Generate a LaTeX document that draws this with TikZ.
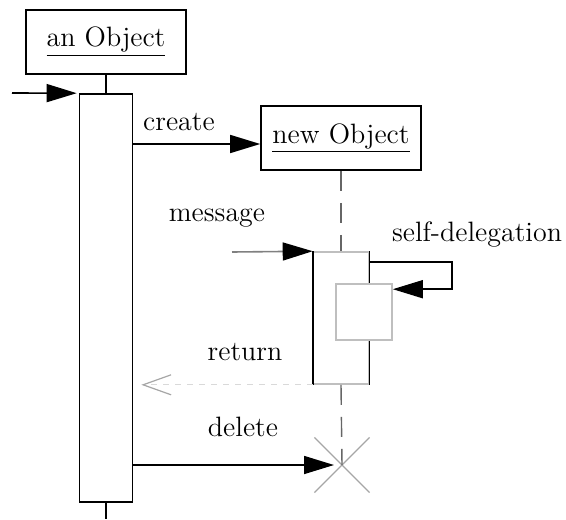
\documentclass[tikz,border=0pt]{standalone}
\usepackage{tikz}
\usetikzlibrary{arrows.meta,positioning,shapes.misc}

\begin{document}
\begin{tikzpicture}[x=0.5pt, y=-0.5pt, >={Triangle[length=15pt,width=9pt]}, font=\fontsize{14}{17}\selectfont]
        \tikzset{object/.style={draw, line width=0.8pt, rectangle, minimum width=80pt, minimum height=32pt, inner sep=0pt},
                 activation/.style={draw, line width=0.8pt, fill=white, rectangle, inner sep=0pt},
                 msg/.style={->, line width=0.8pt},
                 lifeline/.style={dashed, dash pattern=on 10pt off 6pt, line width=0.7pt, gray!80!black},
                 ret/.style={-{Straight Barb[length=14pt,width=10pt,color=gray!70]}, dashed, gray!30, line width=0.6pt}}
        \useasboundingbox (0,0) rectangle (566,519);

        \node[object] (anobj) at (106,42) {\raisebox{3pt}{\underline{an Object}}};
        \node[object] (newobj) at (341,138) {\raisebox{3pt}{\underline{new Object}}};
        \node[activation, minimum width=26.5pt, minimum height=204pt] (act1) at (106,298) {};
        \node[activation, draw=gray!50, minimum width=27.5pt, minimum height=66pt] (act2) at (341,318) {};
        \node[activation, draw=gray!50, minimum width=28pt, minimum height=28pt] (act3) at (364,312) {};
        \node[draw=gray!70, line width=0.6pt, cross out, minimum size=27pt, inner sep=0pt] (kill) at (342,465) {};

        \coordinate (start) at (12,93);
        \coordinate (bottom) at (106,519);
        \coordinate (msgstart) at (232,252);
        \coordinate (selfturn) at (452,262);

        \node (lblcreate) at (179,122) {create};
        \node (lblmessage) at (217,218) {message};
        \node (lblself) at (477,235) {self-delegation};
        \node (lblreturn) at (245,352) {return};
        \node (lbldelete) at (243,427) {delete};

        \draw[line width=0.8pt] (anobj.south) -- (act1.north);
        \draw[line width=0.8pt] (act1.south) -- (bottom);
        \draw[lifeline] (newobj.south) -- (act2.north);
        \draw[lifeline] (act2.south) -- (kill.center);
        \draw[line width=0.8pt] (act2.north west) -- (act2.south west);
        \draw[line width=0.8pt] (act2.north east) -- (act3.north east -| act2.north east);
        \draw[line width=0.8pt] (act3.south east -| act2.south east) -- (act2.south east);

        \draw[msg, shorten >=1pt] (start) -- (act1.north west);
        \draw[msg] ([yshift=-3pt]act1.east |- newobj.west) -- ([yshift=-3pt]newobj.west);
        \draw[msg, gray, -{Triangle[length=15pt,width=9pt,color=black]}] (msgstart) -- (act2.north west);
        \draw[msg] (act2.east |- selfturn) -- (selfturn) |- ([yshift=-3pt]act3.north east);
        \draw[ret, shorten >=4pt] (act2.south west) -- (act1.east |- act2.south west);
        \draw[msg, shorten >=4pt] (act1.east |- kill) -- (kill.center);
    \end{tikzpicture}
\end{document}
